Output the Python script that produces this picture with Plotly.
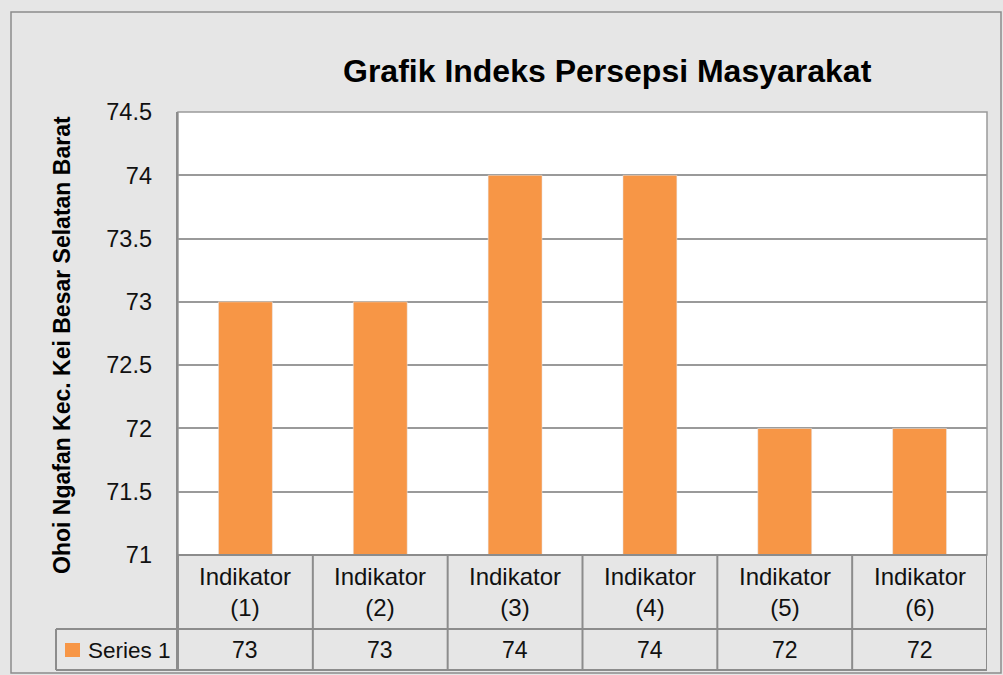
import plotly.graph_objects as go

categories = ["Indikator<br>(1)", "Indikator<br>(2)", "Indikator<br>(3)",
              "Indikator<br>(4)", "Indikator<br>(5)", "Indikator<br>(6)"]
values = [73, 73, 74, 74, 72, 72]
series_name = "Series 1"
y_ticks = [71, 71.5, 72, 72.5, 73, 73.5, 74, 74.5]
y_tick_text = ["71", "71.5", "72", "72.5", "73", "73.5", "74", "74.5"]

W, H = 1003, 675
L, R, T, B = 178, 987, 112, 555
FONT = "Liberation Sans"
BAR = "#F79646"
GRID = "#9a9a9a"
LINE = "#8c8c8c"
BG = "#e6e6e6"


def px(x):
    return (x - L) / (R - L)


def py(y):
    return (B - y) / (B - T)


n = len(categories)
fig = go.Figure()
fig.add_trace(go.Bar(x=list(range(n)), y=values, marker_color=BAR, width=0.4,
                     name=series_name, showlegend=False))

shapes = []
ann = []

# outer border
shapes.append(dict(type="rect", xref="paper", yref="paper", x0=px(11), x1=px(1001),
                   y0=py(673), y1=py(12), line=dict(color=LINE, width=1.5), layer="below"))
# plot area
shapes.append(dict(type="rect", xref="paper", yref="paper", x0=0, x1=1, y0=0, y1=1,
                   line=dict(color=GRID, width=1.5), fillcolor="white", layer="below"))

# table horizontal lines
for yy, x0 in [(B, L), (629, 56), (670, 56)]:
    shapes.append(dict(type="line", xref="paper", yref="paper", x0=px(x0), x1=1,
                       y0=py(yy), y1=py(yy), line=dict(color=LINE, width=2)))
# table vertical lines
for i in range(n + 1):
    shapes.append(dict(type="line", xref="x", yref="paper", x0=i - 0.5, x1=i - 0.5,
                       y0=py(670), y1=py(B), line=dict(color=LINE, width=2)))
shapes.append(dict(type="line", xref="paper", yref="paper", x0=px(177), x1=px(177),
                   y0=py(670), y1=1, line=dict(color=LINE, width=2)))
shapes.append(dict(type="line", xref="paper", yref="paper", x0=px(56), x1=px(56),
                   y0=py(670), y1=py(629), line=dict(color=LINE, width=2)))
# legend swatch
shapes.append(dict(type="rect", xref="paper", yref="paper", x0=px(65), x1=px(80),
                   y0=py(657), y1=py(643), line=dict(width=0), fillcolor=BAR))

for i, (c, v) in enumerate(zip(categories, values)):
    ann.append(dict(x=i, xref="x", y=py(592), yref="paper", text=c, showarrow=False,
                    font=dict(family=FONT, size=24, color="#111"), align="center",
                    yanchor="middle"))
    ann.append(dict(x=i, xref="x", y=py(650), yref="paper", text=str(v), showarrow=False,
                    font=dict(family=FONT, size=23, color="#111"), yanchor="middle"))

ann.append(dict(x=px(86), xref="paper", y=py(650), yref="paper", text=series_name,
                showarrow=False, xanchor="left", yanchor="middle",
                font=dict(family=FONT, size=22.5, color="#111")))
ann.append(dict(x=px(607), xref="paper", y=py(71), yref="paper",
                text="<b>Grafik Indeks Persepsi Masyarakat</b>", showarrow=False,
                xanchor="center", yanchor="middle",
                font=dict(family=FONT, size=32, color="#000")))
ann.append(dict(x=px(62), xref="paper", y=py(345), yref="paper",
                text="<b>Ohoi Ngafan Kec. Kei Besar Selatan Barat</b>", showarrow=False,
                textangle=-90, xanchor="center", yanchor="middle",
                font=dict(family=FONT, size=23, color="#000")))

fig.update_layout(
    width=W, height=H,
    margin=dict(l=L, r=W - R, t=T, b=H - B),
    paper_bgcolor=BG, plot_bgcolor="rgba(0,0,0,0)",
    shapes=shapes, annotations=ann, bargap=0.6,
    xaxis=dict(range=[-0.5, n - 0.5], showticklabels=False, showgrid=False,
               zeroline=False, fixedrange=True),
    yaxis=dict(range=[71, 74.5], tickvals=y_ticks, ticktext=y_tick_text,
               showgrid=True, gridcolor=GRID, gridwidth=1.5, zeroline=False,
               ticks="", ticklabelstandoff=25,
               tickfont=dict(family=FONT, size=23.5, color="#111")),
)

fig.write_html("out.html", config={"displayModeBar": False},
               post_script="document.body.style.margin='0';document.body.style.padding='0';")
